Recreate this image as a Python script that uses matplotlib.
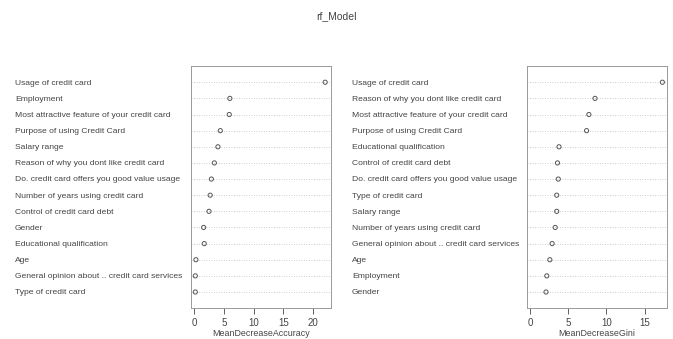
import matplotlib.pyplot as plt
from matplotlib.transforms import blended_transform_factory

plt.rcParams['font.family'] = ['Liberation Sans', 'DejaVu Sans']

# Variable importance from the random forest, sorted from most to least important
acc_labels = [
    'Usage of credit card',
    'Employment',
    'Most attractive feature of your credit card',
    'Purpose of using Credit Card',
    'Salary range',
    'Reason of why you dont like credit card',
    'Do. credit card offers you good value usage',
    'Number of years using credit card',
    'Control of credit card debt',
    'Gender',
    'Educational qualification',
    'Age',
    'General opinion about .. credit card services',
    'Type of credit card',
]
acc_values = [22.0, 6.0, 5.9, 4.4, 4.0, 3.4, 2.9, 2.7, 2.5, 1.6, 1.7, 0.3, 0.2, 0.2]

gini_labels = [
    'Usage of credit card',
    'Reason of why you dont like credit card',
    'Most attractive feature of your credit card',
    'Purpose of using Credit Card',
    'Educational qualification',
    'Control of credit card debt',
    'Do. credit card offers you good value usage',
    'Type of credit card',
    'Salary range',
    'Number of years using credit card',
    'General opinion about .. credit card services',
    'Age',
    'Employment',
    'Gender',
]
gini_values = [17.3, 8.5, 7.7, 7.4, 3.8, 3.6, 3.7, 3.5, 3.5, 3.3, 2.9, 2.6, 2.2, 2.1]

text_col = '#444444'

fig = plt.figure(figsize=(6.73, 3.39), dpi=100)
fig.text(0.5, 0.953, 'rf_Model', ha='center', va='center', fontsize=7.5, color=text_col)


def dotchart(rect, label_x, labels, values, xlim, xticks, xlabel):
    ax = fig.add_axes(rect)
    n = len(labels)
    ys = list(range(n, 0, -1))
    for y in ys:
        ax.axhline(y, color='#bbbbbb', lw=0.6, ls=(0, (1, 2)), zorder=1)
    ax.scatter(values, ys, s=9, facecolors='none', edgecolors='#555555', linewidths=0.7, zorder=3)
    ax.set_xlim(*xlim)
    ax.set_ylim(0, n + 1)
    ax.set_yticks([])
    ax.set_xticks(xticks)
    ax.tick_params(axis='x', labelsize=7, colors=text_col, length=4, width=0.6, pad=3)
    ax.set_xlabel(xlabel, fontsize=6.4, color=text_col, labelpad=1)
    for s in ax.spines.values():
        s.set_color('#999999')
        s.set_linewidth(0.7)
    trans = blended_transform_factory(fig.transFigure, ax.transData)
    for lab, y in zip(labels, ys):
        ax.text(label_x, y - 0.05, lab, transform=trans, ha='left', va='center',
                fontsize=6.1, color=text_col, clip_on=False)
    return ax


dotchart([0.284, 0.091, 0.208, 0.714], 15 / 673, acc_labels, acc_values,
         (-0.5, 23.0), [0, 5, 10, 15, 20], 'MeanDecreaseAccuracy')
dotchart([0.783, 0.091, 0.208, 0.714], 352 / 673, gini_labels, gini_values,
         (-0.39, 17.9), [0, 5, 10, 15], 'MeanDecreaseGini')

fig.savefig('out.png', dpi=100)
